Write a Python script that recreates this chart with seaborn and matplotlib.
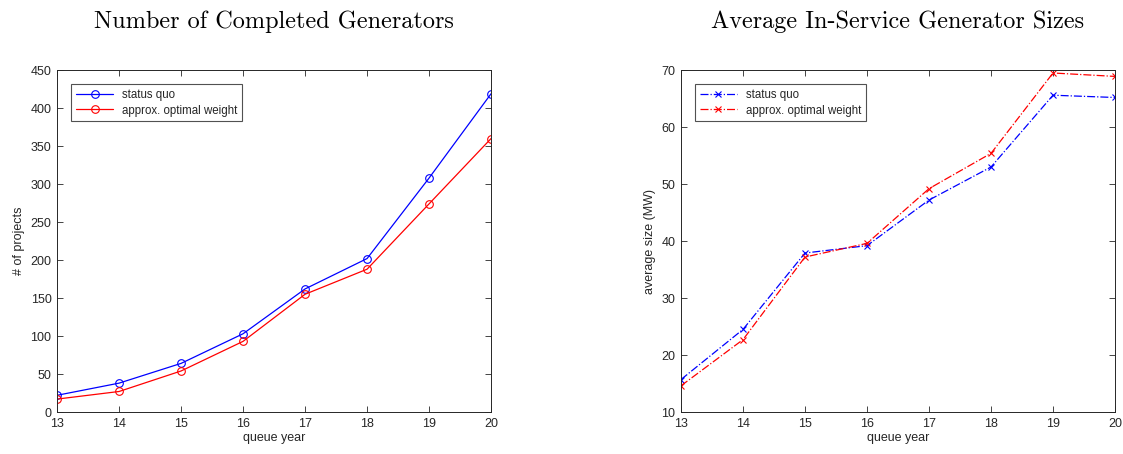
import matplotlib
matplotlib.use('Agg')
import matplotlib.pyplot as plt
import seaborn as sns
import pandas as pd

# Dados
anos = [13, 14, 15, 16, 17, 18, 19, 20]
proj_status_quo = [22, 38, 64, 103, 162, 202, 308, 419]
proj_otimo = [17, 27, 54, 93, 155, 188, 274, 360]
tam_status_quo = [15.7, 24.5, 37.9, 39.2, 47.2, 53.0, 65.6, 65.2]
tam_otimo = [14.6, 22.7, 37.2, 39.6, 49.2, 55.4, 69.5, 68.9]
series = ['status quo', 'approx. optimal weight']
cores = ['blue', 'red']

sns.set_theme(style='white')
plt.rcParams['font.family'] = ['Liberation Sans', 'DejaVu Sans']
plt.rcParams['text.color'] = '#262626'
plt.rcParams['axes.labelcolor'] = '#262626'
plt.rcParams['xtick.color'] = '#262626'
plt.rcParams['ytick.color'] = '#262626'

df_proj = pd.DataFrame({'ano': anos, series[0]: proj_status_quo, series[1]: proj_otimo})
df_tam = pd.DataFrame({'ano': anos, series[0]: tam_status_quo, series[1]: tam_otimo})

fig = plt.figure(figsize=(11.23, 4.54), dpi=100)
ax1 = fig.add_axes([0.0508, 0.0925, 0.3865, 0.753])
ax2 = fig.add_axes([0.6064, 0.0925, 0.3865, 0.753])


def desenha(ax, df, marcador, estilo, tam):
    for s, c in zip(series, cores):
        sns.lineplot(data=df, x='ano', y=s, ax=ax, color=c, label=s,
                     marker=marcador, markersize=tam, markerfacecolor='none',
                     markeredgecolor=c, markeredgewidth=0.8,
                     linestyle=estilo, linewidth=0.9)


desenha(ax1, df_proj, 'o', '-', 5.5)
desenha(ax2, df_tam, 'x', '-.', 5)

ax1.set_ylim(0, 450)
ax1.set_yticks(range(0, 451, 50))
ax1.set_ylabel('# of projects', fontsize=9)
ax2.set_ylim(10, 70)
ax2.set_yticks(range(10, 71, 10))
ax2.set_ylabel('average size (MW)', fontsize=9)

titulos = ['Number of Completed Generators', 'Average In-Service Generator Sizes']
for ax, t in zip([ax1, ax2], titulos):
    ax.set_xlim(13, 20)
    ax.set_xticks(anos)
    ax.set_xlabel('queue year', fontsize=9, labelpad=2)
    ax.tick_params(direction='in', length=4, width=0.6, top=True, right=True,
                   labelsize=9, bottom=True, left=True)
    ax.tick_params(axis='x', pad=4)
    ax.tick_params(axis='y', pad=4)
    for sp in ax.spines.values():
        sp.set_visible(True)
        sp.set_color('#262626')
        sp.set_linewidth(0.7)
    ax.set_title(t, fontsize=17.5, family='cmr10', pad=30, color='black')
    leg = ax.legend(loc='upper left', fontsize=8.3, frameon=True, fancybox=False,
                    edgecolor='#262626', handlelength=3.2, borderpad=0.4,
                    labelspacing=0.3, bbox_to_anchor=(0.02, 0.975))
    leg.get_frame().set_linewidth(0.8)

fig.savefig('out.png', dpi=100)
